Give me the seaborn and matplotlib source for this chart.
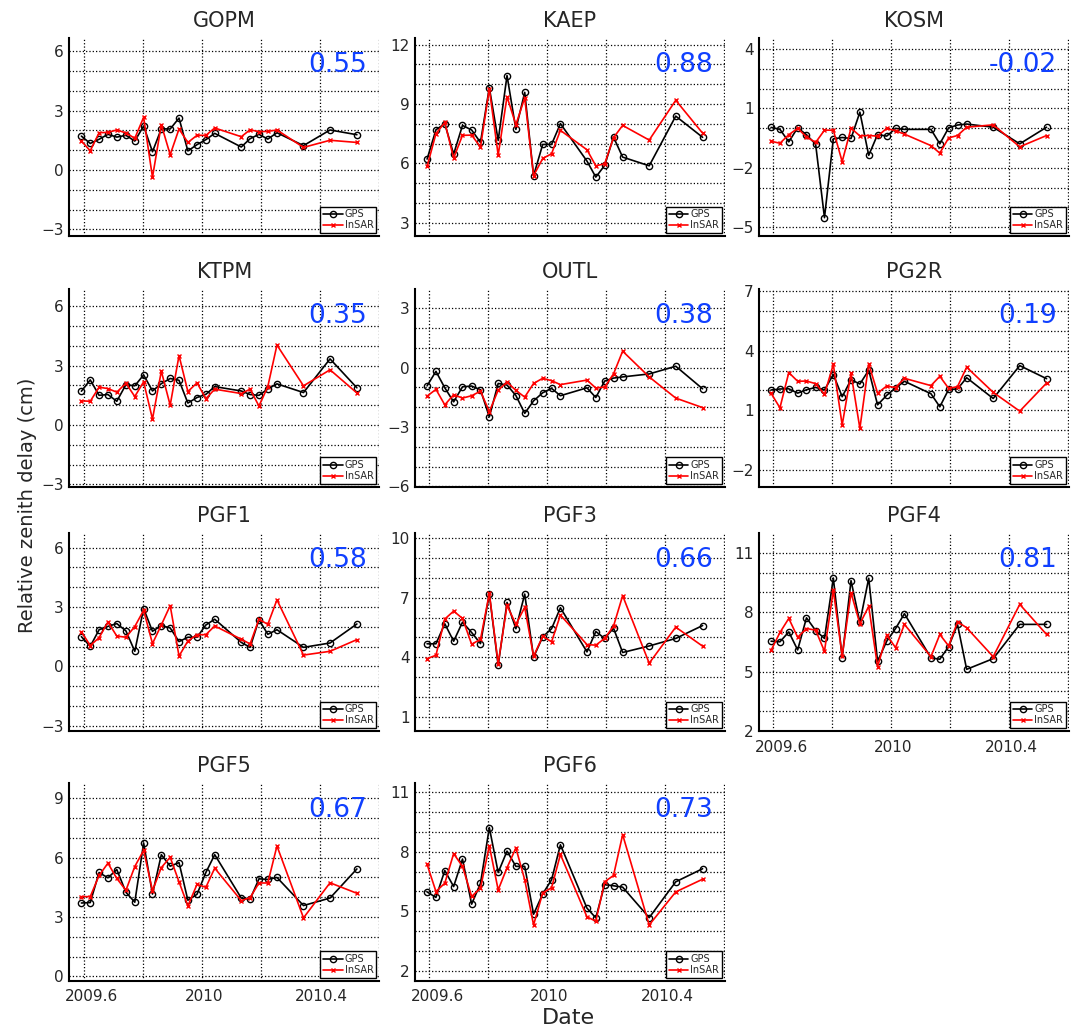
import numpy as np
import pandas as pd
import seaborn as sns
import matplotlib
matplotlib.use("Agg")
import matplotlib.pyplot as plt
from matplotlib.transforms import ScaledTranslation

sns.set_style("white")
plt.rcParams['font.family'] = ['DejaVu Sans']

# Acquisition dates (decimal years)
dates = [2009.592, 2009.622, 2009.652, 2009.682, 2009.712, 2009.743, 2009.773,
         2009.803, 2009.833, 2009.863, 2009.893, 2009.923, 2009.953, 2009.984,
         2010.014, 2010.044, 2010.134, 2010.164, 2010.194, 2010.224, 2010.255,
         2010.345, 2010.435, 2010.526]

stations = ["GOPM", "KAEP", "KOSM", "KTPM", "OUTL", "PG2R",
            "PGF1", "PGF3", "PGF4", "PGF5", "PGF6"]

corr = ["0.55", "0.88", "-0.02", "0.35", "0.38", "0.19",
        "0.58", "0.66", "0.81", "0.67", "0.73"]

# Relative zenith delay (cm), GPS
gps_gopm = [1.71, 1.34, 1.55, 1.80, 1.66, 1.75, 1.46, 2.22, 0.92, 2.08, 2.07, 2.62,
            0.96, 1.28, 1.53, 1.85, 1.16, 1.58, 1.80, 1.56, 1.88, 1.23, 2.02, 1.78]
gps_kaep = [6.22, 7.70, 8.01, 6.47, 7.92, 7.69, 7.06, 9.83, 7.16, 10.44, 7.72, 9.59,
            5.38, 6.96, 6.96, 8.01, 6.12, 5.31, 5.90, 7.33, 6.32, 5.88, 8.39, 7.32]
gps_kosm = [0.04, -0.06, -0.69, 0.02, -0.33, -0.81, -4.52, -0.54, -0.47, -0.52, 0.81, -1.37,
            -0.32, -0.40, -0.01, -0.06, -0.06, -0.79, 0.02, 0.16, 0.21, 0.05, -0.79, 0.05]
gps_ktpm = [1.71, 2.28, 1.50, 1.54, 1.20, 2.04, 1.98, 2.53, 1.72, 2.09, 2.35, 2.26,
            1.11, 1.39, 1.55, 1.94, 1.72, 1.54, 1.50, 1.82, 2.08, 1.64, 3.34, 1.88]
gps_outl = [-0.92, -0.19, -1.02, -1.73, -0.97, -0.93, -1.12, -2.49, -0.80, -0.88, -1.41, -2.31,
            -1.68, -1.27, -1.05, -1.42, -1.02, -1.51, -0.68, -0.53, -0.47, -0.32, 0.07, -1.07]
gps_pg2r = [2.02, 2.07, 2.08, 1.86, 2.03, 2.15, 2.02, 2.80, 1.68, 2.54, 2.32, 3.02,
            1.27, 1.75, 2.12, 2.46, 1.83, 1.17, 2.05, 2.07, 2.64, 1.59, 3.25, 2.59]
gps_pgf1 = [1.50, 1.01, 1.85, 2.02, 2.16, 1.79, 0.76, 2.92, 1.77, 2.06, 1.94, 1.25,
            1.47, 1.47, 2.09, 2.38, 1.21, 0.96, 2.36, 1.62, 1.85, 0.96, 1.18, 2.14]
gps_pgf3 = [4.68, 4.68, 5.69, 4.81, 5.77, 5.25, 4.69, 7.19, 3.59, 6.77, 5.44, 7.19,
            4.00, 5.03, 5.44, 6.50, 4.27, 5.30, 4.95, 5.47, 4.24, 4.57, 4.95, 5.60]
gps_pgf4 = [6.53, 6.50, 7.00, 6.09, 7.71, 7.07, 6.67, 9.72, 5.70, 9.59, 7.48, 9.71,
            5.52, 6.53, 7.17, 7.92, 5.69, 5.62, 6.26, 7.38, 5.11, 5.65, 7.38, 7.38]
gps_pgf5 = [3.71, 3.73, 5.25, 4.98, 5.40, 4.25, 3.75, 6.74, 4.16, 6.15, 5.57, 5.75,
            3.85, 4.15, 5.25, 6.15, 3.96, 3.90, 4.93, 4.90, 5.00, 3.58, 3.96, 5.43]
gps_pgf6 = [5.97, 5.69, 7.05, 6.24, 7.63, 5.35, 6.40, 9.22, 6.95, 8.03, 7.26, 7.26,
            4.84, 5.87, 6.58, 8.35, 5.15, 4.66, 6.34, 6.28, 6.21, 4.67, 6.48, 7.14]

# Relative zenith delay (cm), InSAR
sar_gopm = [1.46, 0.97, 1.88, 1.90, 2.02, 1.87, 1.60, 2.66, -0.37, 2.29, 0.77, 2.07,
            1.39, 1.75, 1.75, 2.12, 1.68, 2.03, 1.93, 1.95, 2.02, 1.14, 1.50, 1.39]
sar_kaep = [5.85, 7.50, 8.07, 6.27, 7.42, 7.43, 6.83, 9.76, 6.42, 9.37, 7.96, 9.31,
            5.38, 6.25, 6.49, 7.67, 6.69, 5.88, 5.98, 7.30, 7.92, 7.18, 9.19, 7.53]
sar_kosm = [-0.66, -0.76, -0.33, -0.01, -0.44, -0.72, -0.10, -0.10, -1.69, 0.00, -0.39, -0.37,
            -0.40, -0.01, -0.13, -0.30, -0.88, -1.26, -0.49, -0.37, 0.05, 0.17, -0.94, -0.37]
sar_ktpm = [1.22, 1.20, 1.91, 1.84, 1.66, 2.11, 1.44, 2.18, 0.30, 2.72, 1.00, 3.51,
            1.69, 2.13, 1.33, 1.81, 1.59, 1.81, 0.96, 1.94, 4.04, 1.98, 2.79, 1.62]
sar_outl = [-1.44, -1.10, -1.88, -1.37, -1.54, -1.42, -1.19, -2.22, -1.14, -0.73, -1.15, -1.49,
            -0.80, -0.54, -0.66, -0.86, -0.63, -1.03, -0.98, -0.32, 0.83, -0.47, -1.54, -2.02]
sar_pg2r = [1.85, 1.12, 2.90, 2.46, 2.47, 2.34, 1.80, 3.31, 0.25, 2.86, 0.08, 3.34,
            1.86, 2.22, 2.14, 2.61, 2.24, 2.71, 2.10, 2.19, 3.17, 1.90, 0.95, 2.37]
sar_pgf1 = [1.75, 1.05, 1.45, 2.24, 1.53, 1.47, 2.01, 2.83, 1.15, 2.09, 3.07, 0.52,
            1.28, 1.60, 1.60, 2.04, 1.37, 1.13, 2.38, 2.12, 3.36, 0.57, 0.76, 1.35]
sar_pgf3 = [3.93, 4.10, 5.93, 6.33, 5.96, 4.66, 4.90, 7.23, 3.68, 6.62, 5.66, 6.52,
            4.05, 5.06, 4.78, 6.13, 4.64, 4.61, 4.95, 5.57, 7.11, 3.70, 5.52, 4.56]
sar_pgf4 = [6.07, 6.97, 7.68, 6.73, 7.17, 7.09, 6.02, 9.11, 5.79, 8.98, 7.41, 8.29,
            5.25, 6.83, 6.21, 7.38, 5.75, 6.87, 6.29, 7.51, 7.21, 5.75, 8.39, 6.87]
sar_pgf5 = [4.03, 4.03, 5.10, 5.72, 4.95, 4.35, 5.55, 6.37, 4.33, 5.50, 6.02, 4.78,
            3.56, 4.65, 4.50, 5.47, 3.83, 3.98, 4.72, 4.72, 6.59, 2.96, 4.73, 4.20]
sar_pgf6 = [7.36, 5.99, 6.41, 7.90, 7.26, 5.74, 6.16, 8.30, 6.07, 7.19, 8.19, 6.58,
            4.30, 5.92, 6.18, 7.86, 4.71, 4.49, 6.48, 6.80, 8.86, 4.30, 5.97, 6.61]

gps_all = [gps_gopm, gps_kaep, gps_kosm, gps_ktpm, gps_outl, gps_pg2r,
           gps_pgf1, gps_pgf3, gps_pgf4, gps_pgf5, gps_pgf6]
sar_all = [sar_gopm, sar_kaep, sar_kosm, sar_ktpm, sar_outl, sar_pg2r,
           sar_pgf1, sar_pgf3, sar_pgf4, sar_pgf5, sar_pgf6]

# y-axis window and first labelled tick for each station
y_lower = [-3.35, 2.32, -5.46, -3.13, -6.03, -2.88, -3.28, 0.26, 1.98, -0.23, 1.47]
y_label_start = [-3, 3, -5, -3, -6, -2, -3, 1, 2, 0, 2]

x_label_pos = [2009.6, 2010.0, 2010.4]
x_label_txt = ["2009.6", "2010", "2010.4"]

W, H = 1076, 1030
fig = plt.figure(figsize=(W / 100, H / 100), dpi=100)

col_left = [69.3, 415.0, 759.0]
row_top = [38.3, 289.0, 533.3, 783.0]
ax_w, ax_h = 310.0, 198.0
xlo, xhi = 2009.551, 2010.602
first_shift = ScaledTranslation(8 / 100, 0, fig.dpi_scale_trans)
other_shift = ScaledTranslation(2 / 100, 0, fig.dpi_scale_trans)


def fmt_int(v):
    v = int(round(v))
    return f"\u2212{abs(v)}" if v < 0 else f"{v}"


for i, name in enumerate(stations):
    r, c = divmod(i, 3)
    ax = fig.add_axes([col_left[c] / W, 1 - (row_top[r] + ax_h) / H, ax_w / W, ax_h / H])

    df = pd.DataFrame({"date": dates, "GPS": gps_all[i], "InSAR": sar_all[i]})
    sns.lineplot(data=df, x="date", y="GPS", ax=ax, color="black", lw=1.2,
                 marker="o", markersize=4.5, markerfacecolor="none",
                 markeredgecolor="black", markeredgewidth=1.0,
                 estimator=None, label="GPS")
    sns.lineplot(data=df, x="date", y="InSAR", ax=ax, color="red", lw=1.2,
                 marker="x", markersize=3, markeredgewidth=1.0,
                 markeredgecolor="red", markerfacecolor="red",
                 estimator=None, label="InSAR")

    ax.set_xlim(xlo, xhi)
    ylo = y_lower[i]
    ax.set_ylim(ylo, ylo + 10)

    xt = np.round(np.arange(2009.6, 2010.61, 0.2), 1)
    ax.set_xticks(xt)
    bottom_row = name in ("PGF4", "PGF5", "PGF6")
    ax.tick_params(direction="in", length=4, width=1, color="black", pad=4)
    if bottom_row:
        ax.set_xticklabels([x_label_txt[x_label_pos.index(v)] if v in x_label_pos else ""
                            for v in xt], fontsize=11)
        ax.tick_params(axis="x", pad=6)
        for k, lab in enumerate(ax.get_xticklabels()):
            shift = first_shift if k == 0 else other_shift
            lab.set_transform(lab.get_transform() + shift)
    else:
        ax.set_xticklabels([])

    yt = np.arange(np.ceil(ylo), ylo + 10.001, 1)
    ax.set_yticks(yt)
    ax.set_yticklabels([fmt_int(v) if (int(round(v)) - y_label_start[i]) % 3 == 0 else ""
                        for v in yt], fontsize=11)

    ax.grid(True, color="black", linestyle=":", linewidth=0.9)
    for s in ("top", "right"):
        ax.spines[s].set_visible(False)
    for s in ("left", "bottom"):
        ax.spines[s].set_color("black")
        ax.spines[s].set_linewidth(1.5)
    ax.set_xlabel("")
    ax.set_ylabel("")
    ax.set_title(name, fontsize=15, pad=8)

    ax.text(0.96, 0.865, corr[i], transform=ax.transAxes, ha="right", va="center",
            fontsize=19, color="#1040ff")

    leg = ax.legend(loc="lower right", fontsize=7, frameon=True, fancybox=False,
                    edgecolor="black", framealpha=1, handlelength=2.0,
                    borderaxespad=0.3, labelspacing=0.1, borderpad=0.3,
                    handletextpad=0.2)
    leg.get_frame().set_linewidth(1.0)

fig.text(28 / W, 1 - 505 / H, "Relative zenith delay (cm)", rotation=90,
         ha="center", va="center", fontsize=14)
fig.text(568 / W, 1 - 1018 / H, "Date", ha="center", va="center", fontsize=16)

fig.savefig("out.png", dpi=100)
